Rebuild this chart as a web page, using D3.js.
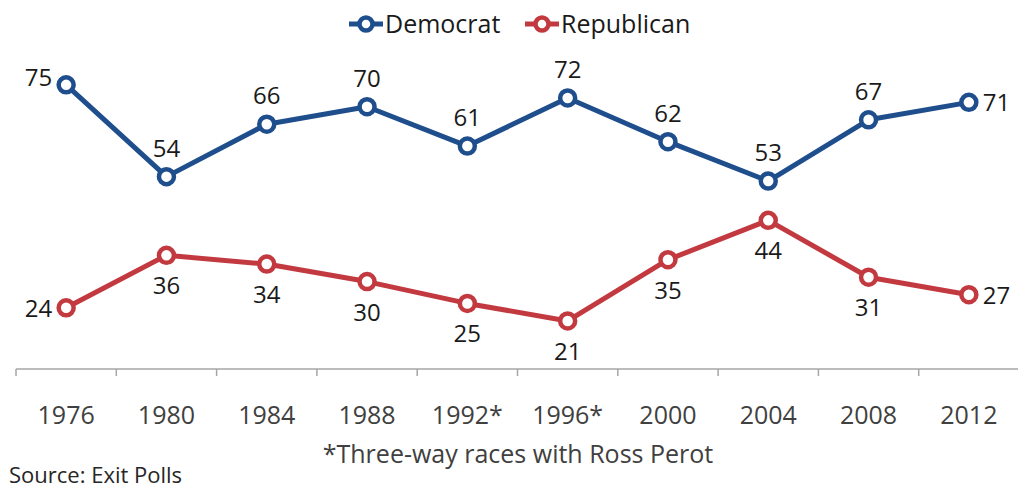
<!DOCTYPE html>
<html>
<head>
<meta charset="utf-8">
<script src="https://cdn.jsdelivr.net/npm/d3@7"></script>
<style>
  body { margin: 0; background: #fff; }
  svg text { font-family: "Open Sans", sans-serif; }
</style>
</head>
<body>
<svg width="1018" height="489"></svg>
<script>
var years = ["1976", "1980", "1984", "1988", "1992*", "1996*", "2000", "2004", "2008", "2012"];
var democrat = [75, 54, 66, 70, 61, 72, 62, 53, 67, 71];
var republican = [24, 36, 34, 30, 25, 21, 35, 44, 31, 27];
// where the value label goes: above, below, left, right
var demLabelPos = ["left", "above", "above", "above", "above", "above", "above", "above", "above", "right"];
var repLabelPos = ["left", "below", "below", "below", "below", "below", "below", "below", "below", "right"];

var blue = "#1f4e8d", red = "#c23a40";

var svg = d3.select("svg");

var x = d3.scaleBand().domain(years).range([16, 1019]).padding(0);
var y = d3.scaleLinear().domain([10, 80]).range([369, 63]);

// axis
var axisY = 369;
var axis = svg.append("g").attr("transform", "translate(0," + axisY + ")");
axis.append("line")
    .attr("x1", x.range()[0]).attr("x2", x.range()[1])
    .attr("stroke", "#a6a6a6").attr("stroke-width", 1.5);
axis.selectAll(".tick")
    .data(years)
    .enter().append("line")
    .attr("x1", function (d) { return x(d); })
    .attr("x2", function (d) { return x(d); })
    .attr("y1", 0).attr("y2", 7)
    .attr("stroke", "#a6a6a6").attr("stroke-width", 1.5);
axis.selectAll(".lab")
    .data(years)
    .enter().append("text")
    .attr("x", function (d) { return x(d) + x.bandwidth() / 2; })
    .attr("y", 55)
    .attr("text-anchor", "middle")
    .attr("font-size", 25)
    .attr("fill", "#404040")
    .text(function (d) { return d; });

svg.append("text")
    .attr("x", 518).attr("y", 463)
    .attr("text-anchor", "middle")
    .attr("font-size", 25).attr("fill", "#404040")
    .text("*Three-way races with Ross Perot");

svg.append("text")
    .attr("x", 9).attr("y", 483)
    .attr("font-size", 22).attr("fill", "#262626")
    .text("Source: Exit Polls");

var line = d3.line()
    .x(function (d, i) { return x(years[i]) + x.bandwidth() / 2; })
    .y(function (d) { return y(d); });

function drawSeries(values, color, pos) {
    var g = svg.append("g");
    g.append("path")
        .datum(values)
        .attr("d", line)
        .attr("fill", "none")
        .attr("stroke", color)
        .attr("stroke-width", 5)
        .attr("stroke-linejoin", "round");
    g.selectAll("circle")
        .data(values)
        .enter().append("circle")
        .attr("cx", function (d, i) { return x(years[i]) + x.bandwidth() / 2; })
        .attr("cy", function (d) { return y(d); })
        .attr("r", 7.5)
        .attr("fill", "#fff")
        .attr("stroke", color)
        .attr("stroke-width", 4.5);
    g.selectAll("text")
        .data(values)
        .enter().append("text")
        .attr("x", function (d, i) {
            var cx = x(years[i]) + x.bandwidth() / 2;
            if (pos[i] == "left") return cx - 14;
            if (pos[i] == "right") return cx + 14;
            return cx;
        })
        .attr("y", function (d, i) {
            var cy = y(d);
            if (pos[i] == "above") return cy - 20;
            if (pos[i] == "below") return cy + 39;
            if (pos[i] == "left" && values === democrat) return cy + 1;
            return cy + 9;
        })
        .attr("text-anchor", function (d, i) {
            if (pos[i] == "left") return "end";
            if (pos[i] == "right") return "start";
            return "middle";
        })
        .attr("font-size", 24)
        .attr("fill", "#1a1a1a")
        .text(function (d) { return d; });
}

drawSeries(democrat, blue, demLabelPos);
drawSeries(republican, red, repLabelPos);

// legend
var legend = [{ name: "Democrat", color: blue, x: 349 }, { name: "Republican", color: red, x: 525 }];
var lg = svg.selectAll(".legend")
    .data(legend)
    .enter().append("g")
    .attr("transform", function (d) { return "translate(" + d.x + ",24)"; });
lg.append("line")
    .attr("x1", 0).attr("x2", 34)
    .attr("stroke", function (d) { return d.color; })
    .attr("stroke-width", 5);
lg.append("circle")
    .attr("cx", 17).attr("r", 6.5)
    .attr("fill", "#fff")
    .attr("stroke", function (d) { return d.color; })
    .attr("stroke-width", 4.5);
lg.append("text")
    .attr("x", 36).attr("y", 9)
    .attr("font-size", 25)
    .attr("fill", "#1a1a1a")
    .text(function (d) { return d.name; });
</script>
</body>
</html>
